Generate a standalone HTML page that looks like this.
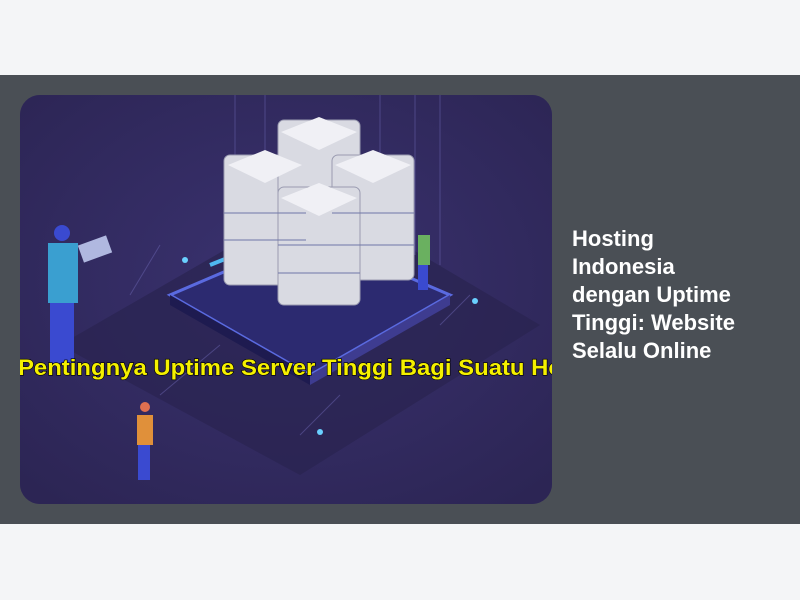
<!DOCTYPE html>
<html><head><meta charset="utf-8"><style>
html,body{margin:0;padding:0;width:800px;height:600px;overflow:hidden;background:#f4f5f7;font-family:"Liberation Sans",sans-serif}
.band{position:absolute;left:0;top:75px;width:800px;height:449px;background:#4a4f55}
.img{position:absolute;left:20px;top:95px;width:532px;height:409px;border-radius:20px;overflow:hidden;background:#322a5c}
.t{position:absolute;left:572px;top:225px;width:185px;color:#fff;font-weight:bold;font-size:22px;line-height:28px}
</style></head><body>
<div class="band"></div>
<div class="img">
<svg width="532" height="409" viewBox="0 0 532 409">
<defs><radialGradient id="g" cx="50%" cy="45%" r="70%"><stop offset="0" stop-color="#3a3270"/><stop offset="1" stop-color="#2c2554"/></radialGradient></defs>
<rect width="532" height="409" fill="url(#g)"/>
<polygon points="300,100 520,230 280,380 40,250" fill="#2a2450" opacity="0.7"/>
<g stroke="#6a64b0" stroke-width="1" opacity="0.5">
<line x1="215" y1="0" x2="215" y2="120"/><line x1="245" y1="0" x2="245" y2="100"/><line x1="360" y1="0" x2="360" y2="140"/><line x1="395" y1="0" x2="395" y2="160"/><line x1="420" y1="0" x2="420" y2="170"/>
<line x1="110" y1="200" x2="140" y2="150"/><line x1="140" y1="300" x2="200" y2="250"/><line x1="280" y1="340" x2="320" y2="300"/><line x1="420" y1="230" x2="450" y2="200"/>
</g>
<polygon points="290,140 430,200 290,280 150,200" fill="#2c2a70" stroke="#5a6ae0" stroke-width="3"/>
<polygon points="150,200 290,280 290,290 150,210" fill="#1e1b50"/>
<polygon points="290,280 430,200 430,210 290,290" fill="#3e3c90"/>
<line x1="190" y1="170" x2="215" y2="160" stroke="#4fb8f0" stroke-width="4"/>
<g fill="#d9dae2" stroke="#9a9bb0">
<rect x="204" y="60" width="82" height="130" rx="6"/>
<rect x="258" y="25" width="82" height="80" rx="6"/>
<rect x="312" y="60" width="82" height="125" rx="6"/>
<rect x="258" y="92" width="82" height="118" rx="6"/>
</g>
<g fill="#f0f0f5"><polygon points="245,55 282,70 245,88 208,70"/><polygon points="299,22 337,37 299,55 261,37"/><polygon points="353,55 391,70 353,88 315,70"/><polygon points="299,88 337,103 299,121 261,103"/></g>
<g stroke="#7077a8" stroke-width="1"><line x1="204" y1="118" x2="286" y2="118"/><line x1="204" y1="145" x2="286" y2="145"/><line x1="258" y1="150" x2="340" y2="150"/><line x1="258" y1="178" x2="340" y2="178"/><line x1="312" y1="118" x2="394" y2="118"/><line x1="312" y1="150" x2="394" y2="150"/></g>
<rect x="28" y="148" width="30" height="60" fill="#3a9fd0"/><rect x="30" y="208" width="24" height="60" fill="#3a4ad0"/><circle cx="42" cy="138" r="8" fill="#3a4ad0"/>
<rect x="60" y="145" width="30" height="18" fill="#b0b8e0" transform="rotate(-20 75 154)"/>
<rect x="398" y="140" width="12" height="30" fill="#6ab060"/><rect x="398" y="170" width="10" height="25" fill="#3a4ad0"/>
<rect x="117" y="320" width="16" height="30" fill="#e0903a"/><rect x="118" y="350" width="12" height="35" fill="#3a4ad0"/><circle cx="125" cy="312" r="5" fill="#e07050"/>
<circle cx="300" cy="337" r="3" fill="#6ad0ff"/><circle cx="455" cy="206" r="3" fill="#6ad0ff"/><circle cx="165" cy="165" r="3" fill="#6ad0ff"/>
<text x="-2" y="280" font-family="Liberation Sans,sans-serif" font-weight="bold" font-size="22" fill="#f5f000" stroke="#000" stroke-width="1.2" paint-order="stroke" textLength="545" lengthAdjust="spacingAndGlyphs">Pentingnya Uptime Server Tinggi Bagi Suatu Ho</text>
</svg>
</div>
<div class="t">Hosting Indonesia dengan Uptime Tinggi: Website Selalu Online</div>
</body></html>
